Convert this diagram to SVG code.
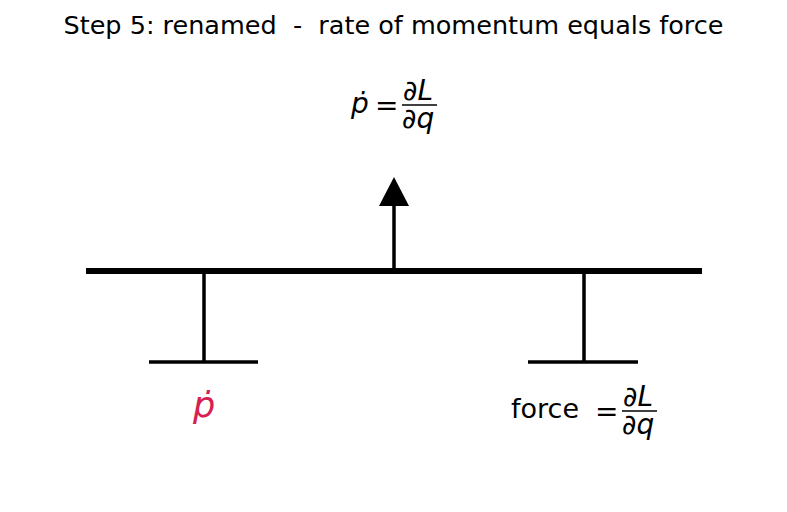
<svg xmlns="http://www.w3.org/2000/svg" width="787" height="512" viewBox="0 0 787 512">
  <style>
    text { font-family: "DejaVu Sans", "Liberation Sans", sans-serif; fill: #000; white-space: pre; }
    .title { font-size: 25.5px; }
    .math { font-size: 28px; }
    .word { font-size: 27px; }
    .mi { font-style: italic; }
    .bar { stroke: #000; stroke-width: 1.3; }
    .beam { stroke: #000; stroke-width: 6; }
    .leg { stroke: #000; stroke-width: 3.5; fill: none; }
  </style>
  <rect width="787" height="512" fill="#fff"/>

  <text class="title" x="393.5" y="34" text-anchor="middle" xml:space="preserve">Step 5: renamed  -  rate of momentum equals force</text>

  <!-- top equation: p-dot = dL/dq -->
  <g id="eq-top">
    <text class="math mi" x="351" y="113">ṗ</text>
    <text class="math" x="375" y="115">=</text>
    <text class="math mi" x="403" y="100">∂L</text>
    <line class="bar" x1="402" y1="105" x2="437" y2="105"/>
    <text class="math mi" x="402" y="128">∂q</text>
  </g>

  <g id="connectors">
    <line class="beam" x1="86" y1="271" x2="702" y2="271"/>
    <line class="leg" x1="394" y1="271" x2="394" y2="203" stroke-width="4.5"/>
    <polygon points="394,177 379,206 409,206" fill="#000"/>
    <line class="leg" x1="204" y1="271" x2="204" y2="362"/>
    <line class="leg" x1="149" y1="362" x2="258" y2="362"/>
    <line class="leg" x1="584" y1="271" x2="584" y2="362"/>
    <line class="leg" x1="528" y1="362" x2="638" y2="362"/>
  </g>

  <g id="node-left">
    <text class="mi" x="193" y="417" font-size="35" style="fill:#d62050">ṗ</text>
  </g>

  <g id="node-right">
    <text class="word" x="511" y="418">force</text>
    <text class="math" x="595" y="421">=</text>
    <text class="math mi" x="623" y="406">∂L</text>
    <line class="bar" x1="622" y1="411" x2="657" y2="411"/>
    <text class="math mi" x="622" y="434">∂q</text>
  </g>
</svg>
